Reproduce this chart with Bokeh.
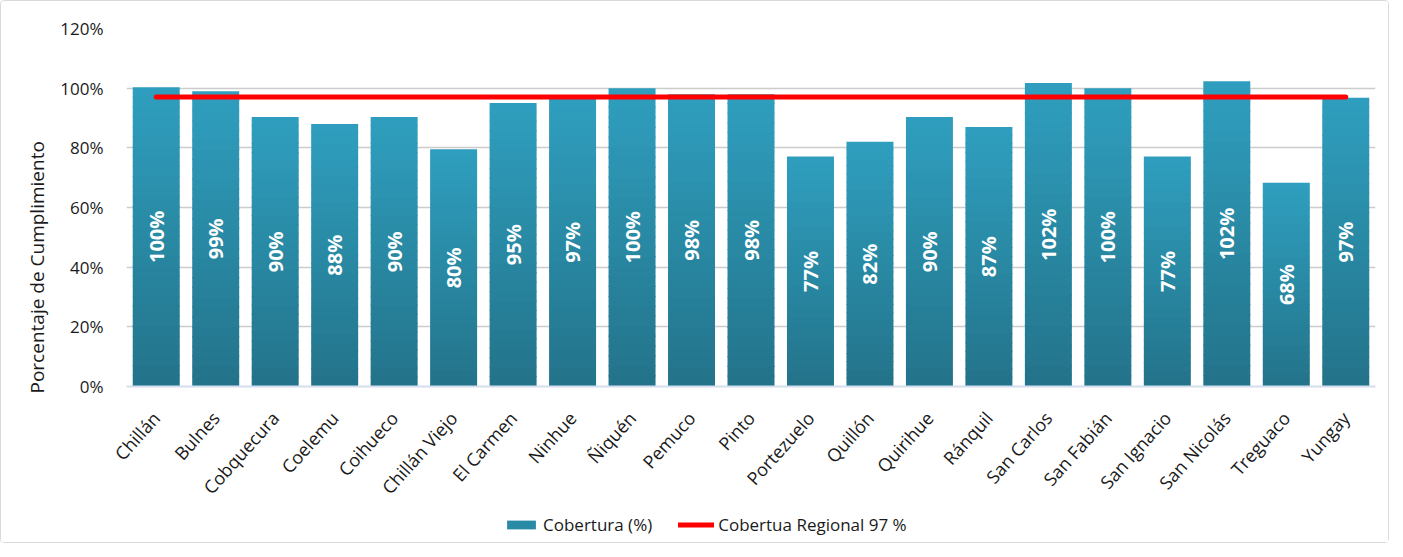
import math
from bokeh.plotting import figure
from bokeh.layouts import column
from bokeh.models import (ColumnDataSource, FactorRange, Range1d, NumeralTickFormatter,
                          Legend, LegendItem, FixedTicker, Title)
from bokeh.core.properties import value
from bokeh.embed import file_html
from bokeh.resources import INLINE

# ---------------- data ----------------
comunas = ["Chillán", "Bulnes", "Cobquecura", "Coelemu", "Coihueco", "Chillán Viejo",
           "El Carmen", "Ninhue", "Ñiquén", "Pemuco", "Pinto", "Portezuelo", "Quillón",
           "Quirihue", "Ránquil", "San Carlos", "San Fabián", "San Ignacio", "San Nicolás",
           "Treguaco", "Yungay"]
cobertura = [1.003, 0.99, 0.903, 0.88, 0.903, 0.795, 0.95, 0.966, 1.0, 0.98, 0.98,
             0.771, 0.82, 0.903, 0.87, 1.017, 1.0, 0.771, 1.023, 0.683, 0.968]
etiquetas = ["100%", "99%", "90%", "88%", "90%", "80%", "95%", "97%", "100%", "98%", "98%",
             "77%", "82%", "90%", "87%", "102%", "100%", "77%", "102%", "68%", "97%"]
regional = 0.97
y_ticks = [0, 0.2, 0.4, 0.6, 0.8, 1.0, 1.2]
titulo_y = "Porcentaje de Cumplimiento"
serie_barras = "Cobertura (%)"
serie_linea = "Cobertua Regional 97 %"

# ---------------- gradient strips for each bar ----------------
N = 30
c_bot = (35, 115, 137)
c_top = (47, 159, 191)
xs, bots, tops, cols = [], [], [], []
for c, v in zip(comunas, cobertura):
    for i in range(N):
        t = (i + 0.5) / N
        rgb = tuple(int(round(a + (b - a) * t)) for a, b in zip(c_bot, c_top))
        xs.append(c)
        bots.append(v * i / N)
        tops.append(min(v, v * (i + 1) / N + v * 0.004))
        cols.append("#%02x%02x%02x" % rgb)
strips = ColumnDataSource(dict(x=xs, bottom=bots, top=tops, color=cols))

lab_src = ColumnDataSource(dict(x=comunas, y=[v / 2 for v in cobertura], t=etiquetas))
line_src = ColumnDataSource(dict(x=comunas, y=[regional] * len(comunas)))

FONT = "Open Sans"
W = 1387

p = figure(x_range=FactorRange(*comunas, range_padding=0), y_range=Range1d(0, 1.2),
           width=W, height=508, output_backend="svg", toolbar_location=None,
           min_border_left=125, min_border_right=13, min_border_top=27, min_border_bottom=123)
p.outline_line_color = None
p.background_fill_color = "white"

bars = p.vbar(x="x", bottom="bottom", top="top", width=0.79, fill_color="color",
              line_color=None, source=strips)
ln = p.line(x="x", y="y", line_color="#ff0000", line_width=5, line_cap="round", source=line_src)

p.text(x="x", y="y", text="t", source=lab_src, angle=math.pi / 2, text_align="center",
       text_baseline="middle", text_color="white", text_font=value(FONT),
       text_font_size="20px", text_font_style="bold")

# axes
p.yaxis.ticker = FixedTicker(ticks=y_ticks)
p.yaxis.formatter = NumeralTickFormatter(format="0%")
p.yaxis.axis_line_color = None
p.yaxis.major_tick_line_color = None
p.yaxis.minor_tick_line_color = None
p.yaxis.major_label_standoff = 17
p.yaxis.major_label_text_font = FONT
p.yaxis.major_label_text_font_size = "17px"
p.yaxis.major_label_text_color = "#1a1a1a"

# y title, anchored at the bottom of the plot area like the original
p.add_layout(Title(text=titulo_y, align="left", offset=-7, standoff=16,
                   text_font=FONT, text_font_size="19px", text_font_style="normal",
                   text_color="#1a1a1a"), "left")

p.xaxis.axis_line_color = "#d3deee"
p.xaxis.axis_line_width = 2
p.xaxis.major_tick_line_color = None
p.xaxis.minor_tick_line_color = None
p.xaxis.major_label_orientation = 0.84
p.xaxis.major_label_standoff = 22
p.xaxis.major_label_text_font = FONT
p.xaxis.major_label_text_font_size = "18px"
p.xaxis.major_label_text_color = "#1a1a1a"

p.xgrid.grid_line_color = None
p.ygrid.grid_line_color = "#cccccc"
p.ygrid.grid_line_width = 1.5

# ---------------- legend strip below the chart ----------------
# same renderers' data, drawn outside this strip's visible range (only the legend shows)
lg = figure(width=W, height=33, output_backend="svg", toolbar_location=None,
            x_range=FactorRange(*comunas, range_padding=0), y_range=Range1d(2, 3),
            x_axis_location=None, y_axis_location=None,
            min_border_left=0, min_border_right=0, min_border_top=0, min_border_bottom=0)
lg.grid.visible = False
lg.outline_line_color = None
r_bar = lg.vbar(x="x", bottom="bottom", top="top", width=0.79, fill_color="color",
                line_color=None, source=strips)
r_line = lg.line(x="x", y="y", line_color="#ff0000", line_width=5, line_cap="round",
                 source=line_src)
legend = Legend(items=[LegendItem(label=serie_barras, renderers=[r_bar], index=N // 2),
                       LegendItem(label=serie_linea, renderers=[r_line])],
                orientation="horizontal", location=(377, 6), padding=0, margin=0,
                spacing=26, label_standoff=4, glyph_width=36, glyph_height=11,
                label_height=20, border_line_color=None, background_fill_alpha=0,
                label_text_font=FONT, label_text_font_size="17px", label_text_color="#1a1a1a")
lg.add_layout(legend, "center")

layout = column(p, lg, spacing=0)
layout.styles = {"border": "1.5px solid #d9d9d9", "border-radius": "4px", "box-sizing": "border-box"}

open("out.html", "w").write(file_html(layout, INLINE))
